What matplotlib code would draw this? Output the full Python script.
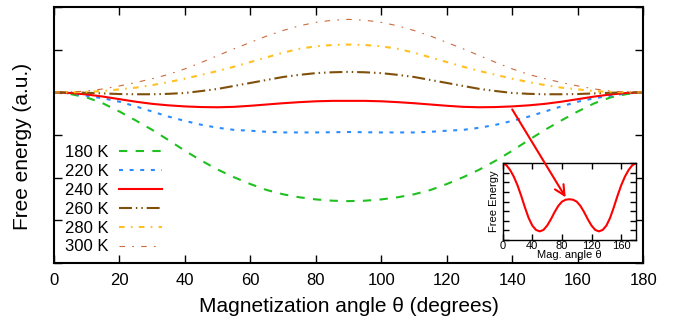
import matplotlib
matplotlib.use("Agg")
import matplotlib.pyplot as plt

plt.rcParams["font.family"] = ["Liberation Sans", "DejaVu Sans"]

# angle grid, degrees
theta = [0, 5, 10, 15, 20, 25, 30, 35, 40, 45, 50, 55, 60, 65, 70, 75, 80, 85, 90,
         95, 100, 105, 110, 115, 120, 125, 130, 135, 140, 145, 150, 155, 160, 165, 170, 175, 180]

# free energy (a.u.) per temperature
f_180 = [0, -0.04, -0.12, -0.26, -0.45, -0.66, -0.88, -1.12, -1.37, -1.60, -1.81, -1.99, -2.15,
         -2.29, -2.39, -2.46, -2.51, -2.54, -2.55, -2.54, -2.51, -2.46, -2.39, -2.29, -2.15,
         -1.99, -1.81, -1.60, -1.37, -1.12, -0.88, -0.66, -0.45, -0.26, -0.12, -0.04, 0]
f_220 = [0, -0.025, -0.08, -0.14, -0.22, -0.33, -0.45, -0.57, -0.67, -0.76, -0.83, -0.88, -0.90,
         -0.925, -0.94, -0.94, -0.94, -0.935, -0.93, -0.935, -0.94, -0.94, -0.94, -0.925, -0.90,
         -0.88, -0.83, -0.76, -0.67, -0.57, -0.45, -0.33, -0.22, -0.14, -0.08, -0.025, 0]
f_240 = [0, -0.015, -0.05, -0.10, -0.16, -0.22, -0.27, -0.305, -0.33, -0.345, -0.35, -0.34, -0.315,
         -0.285, -0.255, -0.23, -0.21, -0.20, -0.20, -0.20, -0.21, -0.23, -0.255, -0.285, -0.315,
         -0.34, -0.35, -0.345, -0.33, -0.305, -0.27, -0.22, -0.16, -0.10, -0.05, -0.015, 0]
f_260 = [0, -0.003, -0.01, -0.025, -0.04, -0.045, -0.045, -0.035, -0.015, 0.03, 0.08, 0.15, 0.22,
         0.29, 0.36, 0.41, 0.45, 0.47, 0.48, 0.47, 0.45, 0.41, 0.36, 0.29, 0.22,
         0.15, 0.08, 0.03, -0.015, -0.035, -0.045, -0.045, -0.04, -0.025, -0.01, -0.003, 0]
f_280 = [0, 0, 0.01, 0.03, 0.07, 0.11, 0.17, 0.24, 0.32, 0.41, 0.50, 0.60, 0.71,
         0.82, 0.93, 1.02, 1.08, 1.11, 1.12, 1.11, 1.08, 1.02, 0.93, 0.82, 0.71,
         0.60, 0.50, 0.41, 0.32, 0.24, 0.17, 0.11, 0.07, 0.03, 0.01, 0, 0]
f_300 = [0, 0.005, 0.03, 0.08, 0.15, 0.23, 0.32, 0.42, 0.55, 0.70, 0.86, 1.02, 1.17,
         1.32, 1.45, 1.56, 1.64, 1.69, 1.71, 1.69, 1.64, 1.56, 1.45, 1.32, 1.17,
         1.02, 0.86, 0.70, 0.55, 0.42, 0.32, 0.23, 0.15, 0.08, 0.03, 0.005, 0]

# inset: 240 K curve, rescaled
f_inset = [8.0, 7.8, 7.3, 6.6, 5.7, 4.6, 3.4, 2.3, 1.5, 1.05, 0.9, 1.05, 1.5,
           2.15, 2.9, 3.55, 4.0, 4.2, 4.25, 4.2, 4.0, 3.55, 2.9, 2.15, 1.5,
           1.05, 0.9, 1.05, 1.5, 2.3, 3.4, 4.6, 5.7, 6.6, 7.3, 7.8, 8.0]

series = [
    ("180 K", f_180, "#20c020", 1.5, (0, (4.0, 4.0))),
    ("220 K", f_220, "#2b8cff", 1.5, (0, (1.9, 3.2))),
    ("240 K", f_240, "#ff0000", 1.5, "-"),
    ("260 K", f_260, "#80500a", 1.5, (0, (6.2, 1.9, 0.7, 1.9, 0.7, 1.9))),
    ("280 K", f_280, "#ffc020", 1.5, (0, (2.7, 3.0, 0.8, 3.0))),
    ("300 K", f_300, "#cc6a3c", 0.8, (0, (5.0, 6.5, 1.5, 6.5))),
]

fig = plt.figure(figsize=(6.81, 3.26), dpi=100)
ax = fig.add_axes([0.0793, 0.1933, 0.8651, 0.7852])
for label, vals, col, lw, ls in series:
    ax.plot(theta, vals, color=col, lw=lw, ls=ls, label=label)

ax.set_xlim(0, 180)
ax.set_ylim(-4, 2)
ax.set_xticks(range(0, 181, 20))
ax.set_yticks(range(-4, 3))
ax.set_yticklabels([])
ax.tick_params(direction="in", top=True, right=True, length=6, width=1,
               labelsize=12, pad=7)
for s in ax.spines.values():
    s.set_linewidth(1.5)
ax.set_xlabel("Magnetization angle θ (degrees)", fontsize=15, labelpad=7)
ax.set_ylabel("Free energy (a.u.)", fontsize=15)
ax.yaxis.set_label_coords(-0.037, 0.455)

leg = ax.legend(loc="upper left", bbox_to_anchor=(0.0187, 0.46), frameon=False,
                markerfirst=False, handlelength=2.6, handletextpad=0.6,
                labelspacing=0.23, borderpad=0, borderaxespad=0, fontsize=12)

# inset
ax_in = fig.add_axes([0.7382, 0.2638, 0.1957, 0.2353])
ax_in.plot(theta, f_inset, color="#ff0000", lw=1.5)
ax_in.set_xlim(0, 180)
ax_in.set_ylim(0, 8)
ax_in.set_xticks(range(0, 181, 40))
ax_in.set_yticks(range(0, 9))
ax_in.set_yticklabels([])
ax_in.tick_params(direction="in", top=True, right=True, length=4, width=1,
                  labelsize=8, pad=1)
for s in ax_in.spines.values():
    s.set_linewidth(1)
ax_in.set_xlabel("Mag. angle θ", fontsize=8, labelpad=-1)
ax_in.set_ylabel("Free Energy", fontsize=8, labelpad=2)

ax_in.annotate("", xy=(85, 4.45), xycoords="data",
               xytext=(140, -0.40), textcoords=ax.transData,
               arrowprops=dict(arrowstyle="->", color="#ff0000", lw=1.5,
                               mutation_scale=18, shrinkA=0, shrinkB=0),
               annotation_clip=False)

fig.savefig("out.png", dpi=100)
